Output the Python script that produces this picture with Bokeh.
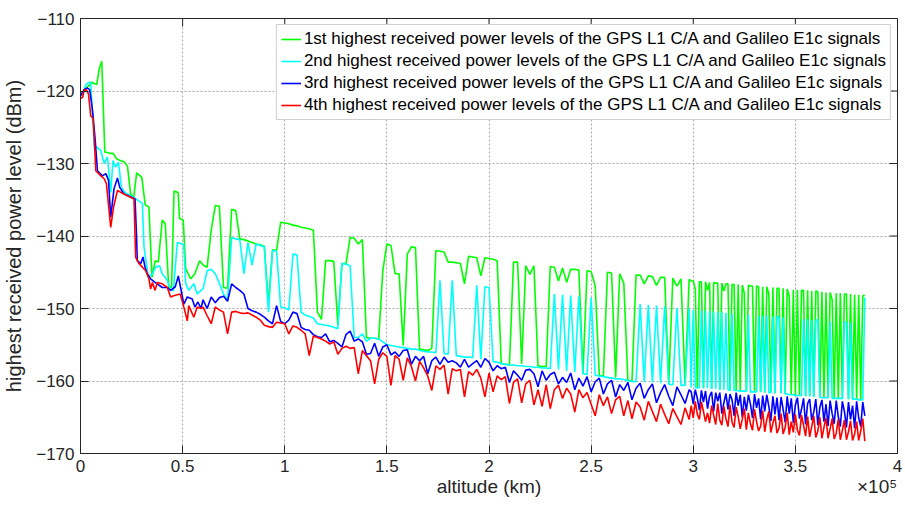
import numpy as np
from bokeh.plotting import figure
from bokeh.models import FixedTicker, LinearAxis
from bokeh.embed import file_html
from bokeh.resources import INLINE

# ---------------- data (altitude in thousands of km, power in dBm) ----------------
SERIES_NAMES = [
    "1st highest received power levels of the GPS L1 C/A and Galileo E1c signals",
    "2nd highest received power levels of the GPS L1 C/A and Galileo E1c signals",
    "3rd highest received power levels of the GPS L1 C/A and Galileo E1c signals",
    "4th highest received power levels of the GPS L1 C/A and Galileo E1c signals",
]
X_TICKS = [0, 0.5, 1, 1.5, 2, 2.5, 3, 3.5, 4]
X_TICK_LABELS = ["0", "0.5", "1", "1.5", "2", "2.5", "3", "3.5", "4"]
Y_TICKS = [-170, -160, -150, -140, -130, -120, -110]
X_LABEL = "altitude (km)"
X_EXPONENT = "×10⁵"
Y_LABEL = "highest received power level (dBm)"

# sampling grid of the altitude profile beyond 60 000 km
ALT_MID = list(range(60, 300, 2))
ALT_TAIL = list(range(299, 385))

# ---- 1st highest (green) ----
g_alt_a = [0, 2, 4, 5.5, 7, 8.0, 9.1, 10.4, 11.9, 14.5,
           16, 17.5, 19.5, 21.5, 23, 24.5, 26, 27.5, 30, 31.7,
           33.5, 35, 36.6, 38.1, 40, 41.5, 43.2, 44.6, 45.8, 47.8,
           48.5, 50.3, 51.5, 54, 56, 58.3]
g_pwr_a = [-120.5, -119.8, -119.3, -118.8, -119.0, -119.1, -117.0, -115.9, -128.4, -128.6,
           -128.6, -129.3, -129.6, -129.8, -130.4, -134.1, -134.8, -131.3, -131.9, -135.7,
           -136.0, -145.7, -143.4, -143.6, -137.8, -138.3, -147.1, -147.1, -133.8, -134.0,
           -137.6, -137.8, -144.5, -145.9, -145.2, -143.4]
g_pwr_mid = [-144.0, -144.3, -139.2, -135.8, -135.9, -147.1, -147.2, -136.3, -136.5, -140.4,
             -140.5, -140.7, -140.9, -141.1, -141.2, -141.4, -149.4, -141.9, -142.0, -138.1,
             -138.2, -138.3, -138.5, -138.6, -138.8, -138.9, -139.0, -139.2, -150.5, -151.5,
             -143.4, -143.4, -143.5, -152.3, -143.8, -143.8, -140.2, -140.3, -141.1, -140.5,
             -154.0, -154.1, -154.1, -154.2, -144.8, -141.1, -141.3, -145.2, -145.2, -155.1,
             -142.5, -141.5, -141.6, -155.6, -155.7, -155.8, -155.5, -142.0, -142.1, -142.2,
             -143.6, -143.6, -143.7, -143.8, -146.6, -142.8, -142.9, -143.0, -145.5, -143.0,
             -143.1, -143.2, -143.4, -157.6, -157.7, -157.8, -143.6, -143.6, -157.6, -144.1,
             -145.3, -144.1, -157.9, -158.0, -158.0, -144.2, -144.3, -146.2, -144.4, -146.4,
             -144.6, -144.6, -144.7, -159.0, -144.8, -144.9, -146.9, -159.2, -159.3, -145.0,
             -145.1, -159.5, -145.2, -146.5, -159.9, -160.0, -145.4, -145.4, -146.6, -145.5,
             -145.6, -146.8, -145.7, -145.7, -160.4, -145.8, -146.9, -145.9, -160.5, -146.0]
g_pwr_tail = [-146.2, -146.2, -147.3, -160.9, -146.3, -146.3, -161.0, -146.3, -147.5, -146.4,
              -161.1, -146.4, -146.5, -146.5, -161.2, -146.5, -147.6, -146.6, -146.6, -161.3,
              -146.7, -146.7, -161.3, -146.7, -161.4, -146.8, -147.9, -161.4, -146.8, -146.9,
              -146.9, -161.5, -146.9, -147.0, -161.5, -147.0, -161.6, -147.0, -148.0, -161.6,
              -147.1, -161.7, -147.2, -147.2, -161.7, -147.2, -161.8, -147.3, -148.3, -161.9,
              -147.4, -162.0, -147.4, -162.0, -147.5, -147.5, -162.1, -147.5, -162.1, -147.6,
              -162.2, -147.6, -147.7, -162.2, -147.7, -162.3, -147.8, -162.3, -147.8, -148.8,
              -162.4, -147.9, -162.4, -147.9, -162.4, -148.0, -148.0, -162.5, -148.0, -162.5,
              -148.1, -162.5, -148.1, -162.6, -148.2, -148.2]

# ---- 2nd highest (cyan) ----
c_alt_a = [0, 1.5, 2.7, 4.2, 5.0, 6.7, 9.1, 9.9, 11.6, 13.2,
           14.8, 15.9, 17.2, 18.6, 20.0, 21.8, 26.2, 30.3, 31.1, 33.2,
           35.2, 36.8, 38.7, 40.0, 42.5, 44.1, 45.5, 47.4, 50.5, 51.5,
           53.0, 55.5, 57.1, 59.0]
c_pwr_a = [-120.5, -120.0, -119.1, -118.8, -118.8, -127.5, -128.0, -128.2, -130.0, -129.1,
           -134.0, -129.6, -130.5, -129.8, -133.3, -134.0, -134.7, -135.5, -141.5, -145.7,
           -145.2, -144.3, -144.1, -145.2, -146.1, -147.5, -147.5, -140.9, -141.2, -146.5,
           -147.5, -146.6, -148.0, -147.5]
c_pwr_mid = [-147.3, -144.8, -144.6, -145.2, -146.5, -148.0, -148.9, -140.2, -140.4, -140.5,
             -145.2, -140.9, -144.0, -141.1, -141.3, -141.5, -150.5, -142.0, -142.1, -149.8,
             -149.9, -150.2, -142.5, -142.6, -150.5, -150.9, -151.1, -151.3, -152.1, -152.2,
             -152.3, -152.4, -152.6, -152.8, -143.8, -143.9, -144.1, -154.0, -154.0, -153.5,
             -154.5, -154.1, -154.1, -154.2, -154.6, -155.0, -155.1, -155.2, -155.3, -155.4,
             -155.5, -155.6, -155.6, -155.8, -155.9, -156.0, -156.0, -156.1, -146.1, -156.2,
             -156.3, -146.1, -156.5, -156.6, -156.7, -156.7, -156.8, -146.8, -157.0, -147.0,
             -147.1, -157.3, -157.4, -157.6, -157.7, -157.8, -157.8, -157.9, -157.9, -158.0,
             -158.0, -158.1, -158.1, -158.2, -158.2, -158.3, -148.0, -158.4, -148.1, -158.6,
             -148.2, -158.8, -148.3, -159.0, -159.1, -148.5, -159.2, -159.3, -159.4, -159.5,
             -159.6, -159.7, -159.7, -159.8, -159.95, -160.05, -160.1, -149.4, -160.15, -149.5,
             -160.2, -149.6, -160.3, -149.7, -160.45, -160.5, -149.9, -160.6, -160.6, -150.0]
c_pwr_tail = [-160.9, -150.2, -160.9, -160.95, -160.9, -150.3, -161.0, -150.3, -161.0, -150.4,
              -161.1, -150.4, -161.1, -150.5, -161.2, -150.5, -161.2, -150.6, -161.2, -161.3,
              -150.7, -161.3, -161.3, -161.35, -161.4, -161.4, -161.4, -161.45, -150.9, -161.5,
              -161.5, -161.5, -161.5, -151.0, -161.55, -151.0, -161.6, -151.0, -161.6, -161.6,
              -151.1, -161.7, -151.1, -151.2, -161.7, -151.2, -161.8, -161.8, -161.9, -161.9,
              -161.9, -162.0, -162.0, -162.0, -162.0, -151.5, -162.1, -151.5, -162.1, -151.6,
              -162.2, -151.6, -151.6, -162.2, -162.3, -162.3, -162.3, -162.3, -151.8, -162.4,
              -162.4, -162.4, -162.4, -162.4, -162.45, -151.9, -151.9, -162.5, -152.0, -162.5,
              -162.5, -162.5, -162.6, -162.6, -162.6, -148.5]

# ---- 3rd highest (blue) ----
b_alt_a = [0, 1.8, 3.4, 4.5, 5.9, 7.2, 8.3, 10.7, 12.4, 13.7,
           14.8, 16.4, 18.1, 19.2, 21.3, 26.7, 27.4, 27.8, 29.5, 30.6,
           31.6, 32.7, 34.3, 36.5, 40.0, 42.5, 44.1, 46.4, 47.9, 49.0,
           50.6, 52.3, 54.7, 56.0, 57.5, 59.0]
b_pwr_a = [-120.7, -119.8, -119.6, -119.8, -122.7, -126.8, -131.0, -131.7, -131.4, -132.3,
           -137.4, -133.5, -132.0, -133.3, -134.2, -134.9, -139.7, -143.4, -143.8, -142.9,
           -144.3, -145.2, -145.9, -146.4, -147.1, -147.1, -147.5, -147.0, -145.5, -147.1,
           -149.4, -148.4, -148.7, -149.8, -149.1, -150.0]
b_pwr_mid = [-148.8, -150.0, -148.4, -149.2, -148.5, -148.3, -149.0, -146.6, -147.1, -147.5,
             -148.0, -150.0, -150.3, -150.5, -150.8, -151.2, -151.7, -152.1, -149.6, -151.8,
             -152.1, -151.6, -150.5, -150.7, -152.6, -152.9, -153.0, -153.6, -153.9, -154.0,
             -153.5, -154.6, -154.4, -154.8, -155.3, -153.6, -153.1, -154.5, -154.2, -154.6,
             -156.3, -156.2, -154.8, -156.6, -155.3, -155.0, -156.4, -156.0, -156.6, -155.8,
             -155.7, -157.7, -156.6, -157.2, -156.6, -159.0, -157.2, -156.7, -157.7, -156.7,
             -157.4, -157.2, -157.5, -158.1, -157.0, -158.1, -157.6, -157.2, -158.1, -156.9,
             -157.4, -158.6, -157.9, -158.3, -158.1, -160.2, -158.6, -159.2, -159.9, -158.5,
             -158.4, -159.0, -160.8, -158.6, -159.9, -159.1, -158.8, -160.4, -159.5, -160.2,
             -158.9, -161.2, -159.6, -160.7, -159.4, -161.5, -160.1, -159.6, -161.8, -160.4,
             -159.9, -162.2, -160.5, -161.3, -160.2, -162.6, -161.0, -160.3, -162.4, -161.2,
             -160.4, -163.0, -161.6, -160.5, -162.1, -163.4, -160.8, -161.9, -163.1, -161.2]
b_pwr_tail = [-161.5, -163.2, -161.2, -162.4, -164.0, -161.3, -162.9, -161.4, -163.8, -162.1,
              -161.5, -164.2, -161.6, -162.8, -161.6, -164.5, -163.0, -161.7, -163.9, -161.8,
              -162.6, -164.8, -161.6, -163.4, -161.9, -165.0, -162.2, -164.1, -161.9, -163.2,
              -165.1, -161.8, -163.7, -162.4, -165.3, -162.0, -164.2, -161.9, -163.5, -165.5,
              -162.1, -164.6, -162.3, -165.4, -162.2, -163.9, -165.7, -162.1, -164.5, -162.4,
              -165.8, -163.3, -162.3, -165.2, -163.9, -162.4, -166.0, -163.1, -162.5, -165.4,
              -164.3, -162.5, -166.1, -163.6, -162.6, -165.6, -163.2, -166.2, -162.7, -164.5,
              -165.9, -162.7, -164.9, -166.3, -162.8, -164.2, -166.4, -162.9, -165.3, -163.4,
              -166.5, -162.8, -165.1, -166.3, -162.9, -164.8]

# ---- 4th highest (red) ----
r_alt_a = [0, 1.0, 1.8, 2.8, 3.9, 5.0, 6.2, 7.5, 10.0, 11.6,
           12.7, 14.8, 16.2, 18.1, 20.5, 26.2, 27.0, 28.6, 30.3, 31.9,
           33.5, 34.3, 35.2, 36.5, 37.6, 40.0, 42.5, 44.1, 46.0, 48.8,
           50.4, 52.3, 53.0, 55.5, 57.1, 59.0]
r_pwr_a = [-121.0, -120.9, -119.9, -119.8, -120.4, -123.4, -123.8, -131.0, -131.7, -132.1,
           -132.8, -138.8, -136.0, -133.7, -134.1, -134.9, -142.9, -143.8, -144.3, -144.8,
           -145.9, -147.3, -146.4, -147.5, -146.4, -146.6, -147.1, -148.4, -148.2, -148.0,
           -149.6, -151.7, -149.6, -151.2, -149.8, -150.0]
r_pwr_mid = [-149.8, -151.0, -152.1, -149.8, -150.2, -150.5, -153.5, -150.5, -150.4, -150.6,
             -150.7, -150.6, -150.9, -151.2, -151.6, -152.3, -152.5, -152.6, -151.9, -152.0,
             -152.1, -153.5, -152.4, -152.6, -153.0, -153.5, -156.5, -153.8, -154.0, -154.2,
             -154.5, -154.9, -154.6, -156.3, -155.5, -155.2, -155.5, -155.4, -159.0, -155.8,
             -156.5, -157.2, -160.4, -157.0, -156.1, -156.6, -160.6, -156.5, -157.0, -159.9,
             -156.8, -158.0, -160.0, -157.3, -158.2, -159.3, -161.3, -157.9, -158.4, -157.8,
             -161.8, -158.3, -158.6, -158.4, -162.2, -158.7, -159.2, -158.4, -159.6, -162.2,
             -158.9, -161.5, -159.3, -159.8, -159.4, -163.1, -160.2, -159.7, -163.0, -160.4,
             -159.9, -163.3, -161.2, -163.5, -160.5, -163.8, -161.2, -160.6, -162.4, -161.0,
             -161.8, -164.3, -161.2, -162.3, -161.6, -163.2, -164.8, -161.9, -163.4, -162.2,
             -164.5, -162.6, -162.1, -164.8, -162.7, -165.2, -162.9, -163.6, -165.4, -162.8,
             -164.2, -165.6, -163.2, -164.6, -165.9, -163.8, -164.9, -166.0, -163.7, -165.3]
r_pwr_tail = [-163.4, -165.1, -162.8, -164.6, -165.3, -162.9, -164.2, -165.6, -164.4, -165.8,
              -163.4, -164.7, -166.0, -163.1, -165.4, -166.1, -163.5, -165.2, -166.3, -163.3,
              -165.7, -166.4, -163.6, -164.9, -166.6, -165.3, -163.8, -166.7, -164.4, -165.9,
              -166.8, -163.9, -165.6, -166.9, -166.2, -164.1, -167.0, -165.3, -164.2, -167.1,
              -165.8, -164.8, -167.2, -166.5, -164.5, -167.3, -166.4, -164.4, -167.4, -165.6,
              -167.1, -164.6, -166.8, -167.5, -164.7, -166.1, -167.6, -164.9, -167.7, -166.3,
              -164.8, -167.8, -166.9, -165.0, -167.9, -166.4, -165.1, -167.9, -166.6, -165.2,
              -168.0, -167.2, -165.3, -168.1, -166.8, -165.4, -168.1, -167.0, -165.5, -168.2,
              -167.3, -165.6, -168.2, -166.9, -165.2, -168.3]

COLORS = ["#00ff00", "#00ffff", "#0000ff", "#ff0000"]


def build(alt_a, pwr_a, pwr_mid, pwr_tail):
    alt_kkm = np.array(alt_a + ALT_MID + ALT_TAIL, dtype=float)
    pwr = np.array(pwr_a + pwr_mid + pwr_tail, dtype=float)
    return alt_kkm / 100.0, pwr  # axis in units of 10^5 km


series = [
    build(g_alt_a, g_pwr_a, g_pwr_mid, g_pwr_tail),
    build(c_alt_a, c_pwr_a, c_pwr_mid, c_pwr_tail),
    build(b_alt_a, b_pwr_a, b_pwr_mid, b_pwr_tail),
    build(r_alt_a, r_pwr_a, r_pwr_mid, r_pwr_tail),
]

# ---------------- figure ----------------
W, H = 905, 506
ML, MR, MT, MB = 78, 8, 18, 53
FONT = "Liberation Sans"
INK = "#262626"

p = figure(width=W, height=H, x_range=(0, 4), y_range=(-170, -110),
           output_backend="svg", toolbar_location=None,
           min_border_left=ML, min_border_right=MR, min_border_top=MT, min_border_bottom=MB,
           background_fill_color="white", border_fill_color="white")

p.outline_line_color = INK
p.outline_line_width = 1

xax = p.xaxis[0]
yax = p.yaxis[0]
xax.ticker = FixedTicker(ticks=X_TICKS)
yax.ticker = FixedTicker(ticks=Y_TICKS)
xax.major_label_overrides = {float(t): s for t, s in zip(X_TICKS, X_TICK_LABELS)}
yax.axis_label = Y_LABEL

for ax in (xax, yax):
    ax.major_tick_in = 8
    ax.major_tick_out = 0
    ax.minor_tick_in = 0
    ax.minor_tick_out = 0
    ax.axis_line_color = INK
    ax.major_tick_line_color = INK
    ax.major_label_text_font = FONT
    ax.major_label_text_font_size = "17px"
    ax.major_label_text_color = INK
    ax.major_label_standoff = 6
    ax.axis_label_text_font = FONT
    ax.axis_label_text_font_size = "20px"
    ax.axis_label_text_font_style = "normal"
    ax.axis_label_text_color = INK
yax.axis_label_standoff = 8

# second row under the x axis: axis title (centred) and the exponent (right)
label_pos = [2.0, 3.9]
lab_axis = LinearAxis(ticker=FixedTicker(ticks=label_pos),
                      major_label_overrides={2.0: X_LABEL, 3.9: X_EXPONENT},
                      axis_line_color=None, major_tick_line_color=None,
                      minor_tick_line_color=None,
                      major_tick_in=0, major_tick_out=0, minor_tick_in=0, minor_tick_out=0,
                      major_label_standoff=1,
                      major_label_text_font=FONT, major_label_text_font_size="19px",
                      major_label_text_color=INK)
p.add_layout(lab_axis, "below")

for g in (p.xgrid[0], p.ygrid[0]):
    g.grid_line_color = "#a8a8a8"
    g.grid_line_dash = "2 2"
    g.grid_line_width = 1
p.xgrid[0].ticker = FixedTicker(ticks=X_TICKS)
p.ygrid[0].ticker = FixedTicker(ticks=Y_TICKS)

# mirrored inward ticks on top and right edges (derived from tick lists)
fw = W - ML - MR
fh = H - MT - MB
dx = 8 * (4 - 0) / fw
dy = 8 * (-110 - -170) / fh
p.segment(x0=X_TICKS, y0=[-110] * len(X_TICKS), x1=X_TICKS, y1=[-110 - dy] * len(X_TICKS),
          line_color=INK, line_width=1)
p.segment(x0=[4] * len(Y_TICKS), y0=Y_TICKS, x1=[4 - dx] * len(Y_TICKS), y1=Y_TICKS,
          line_color=INK, line_width=1)

for (xs, ys), col, name in zip(series, COLORS, SERIES_NAMES):
    p.line(xs, ys, line_color=col, line_width=1.6, legend_label=name)

lg = p.legend[0]
lg.location = "top_right"
lg.margin = 6
lg.padding = 4
lg.spacing = 2
lg.glyph_width = 20
lg.glyph_height = 20
lg.label_standoff = 3
lg.label_text_font = FONT
lg.label_text_font_size = "17px"
lg.label_text_color = "black"
lg.border_line_color = "#a0a0a0"
lg.border_line_width = 1
lg.background_fill_color = "white"
lg.background_fill_alpha = 1

open("out.html", "w").write(file_html(p, INLINE))
